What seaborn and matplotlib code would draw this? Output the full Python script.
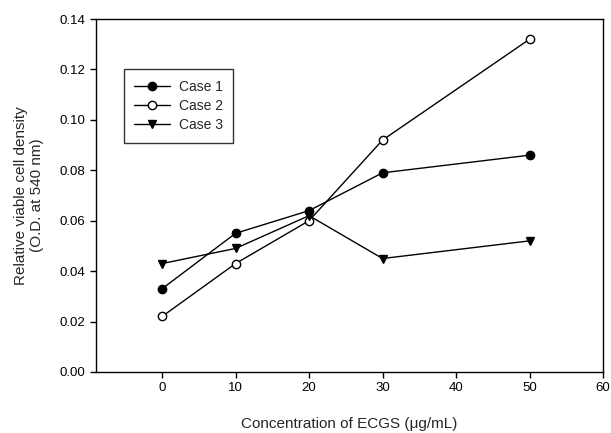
import matplotlib
matplotlib.use("Agg")
import matplotlib.pyplot as plt
import seaborn as sns
import pandas as pd

concentration = [0, 10, 20, 30, 50]
case1 = [0.033, 0.055, 0.064, 0.079, 0.086]
case2 = [0.022, 0.043, 0.060, 0.092, 0.132]
case3 = [0.043, 0.049, 0.062, 0.045, 0.052]
series_names = ["Case 1", "Case 2", "Case 3"]
x_ticks = [0, 10, 20, 30, 40, 50, 60]
y_ticks = [0.00, 0.02, 0.04, 0.06, 0.08, 0.10, 0.12, 0.14]

sns.set_style("ticks")
plt.rcParams["font.family"] = ["Liberation Sans", "DejaVu Sans"]

fig = plt.figure(figsize=(6.11, 4.33), dpi=100)
ax = fig.add_axes([0.157, 0.141, 0.830, 0.815])

styles = [
    dict(marker="o", markerfacecolor="black"),
    dict(marker="o", markerfacecolor="white"),
    dict(marker="v", markerfacecolor="black"),
]
for name, vals, st in zip(series_names, [case1, case2, case3], styles):
    df = pd.DataFrame({"x": concentration, "y": vals})
    sns.lineplot(data=df, x="x", y="y", ax=ax, color="black", linewidth=1.0,
                 markersize=6, markeredgecolor="black", markeredgewidth=1.0,
                 label=name, **st)

ax.set_xlim(-9, 60)
ax.set_ylim(0, 0.14)
ax.set_xticks(x_ticks)
ax.set_yticks(y_ticks)
ax.set_yticklabels([f"{v:.2f}" for v in y_ticks])
ax.tick_params(direction="out", length=4, width=1, labelsize=9.5, colors="black")
for s in ax.spines.values():
    s.set_linewidth(1.0)
    s.set_color("black")
    s.set_visible(True)

ax.set_xlabel("Concentration of ECGS (μg/mL)", fontsize=11, labelpad=16)
ax.set_ylabel("Relative viable cell density\n(O.D. at 540 nm)", fontsize=11, labelpad=11)

leg = ax.legend(loc="upper left", bbox_to_anchor=(0.055, 0.858), frameon=True,
                borderaxespad=0, fancybox=False, edgecolor="black", fontsize=10,
                handlelength=2.6, borderpad=0.75, labelspacing=0.38, handletextpad=0.6)
leg.get_frame().set_linewidth(1.0)

fig.savefig("out.png", dpi=100)
